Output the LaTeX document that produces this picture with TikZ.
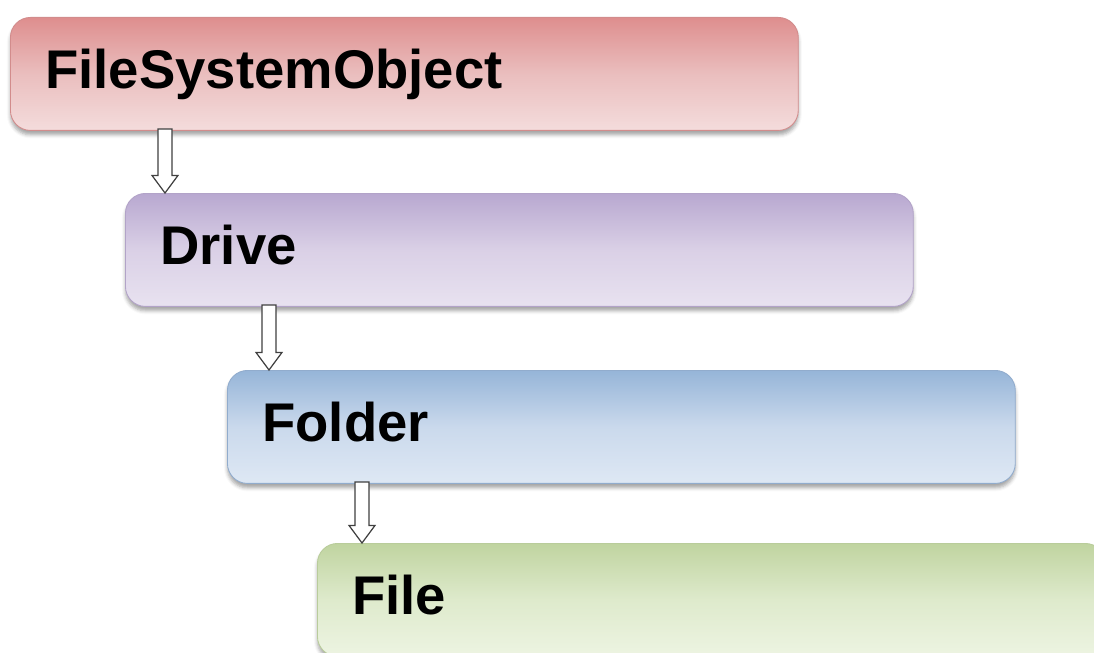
\documentclass[tikz,border=0pt]{standalone}
\usepackage{fontspec}
\setmainfont{Liberation Sans}
\usetikzlibrary{shadows.blur}

% one unit = 0.02cm, y grows downwards
\definecolor{redtop}{RGB}{222,142,142}
\definecolor{redmid}{RGB}{234,190,190}
\definecolor{redbot}{RGB}{244,220,220}
\definecolor{redline}{RGB}{210,140,140}
\definecolor{purtop}{RGB}{184,168,208}
\definecolor{purmid}{RGB}{218,208,230}
\definecolor{purbot}{RGB}{232,226,240}
\definecolor{purline}{RGB}{178,163,200}
\definecolor{blutop}{RGB}{150,181,216}
\definecolor{blumid}{RGB}{202,217,236}
\definecolor{blubot}{RGB}{222,232,244}
\definecolor{bluline}{RGB}{145,172,205}
\definecolor{grntop}{RGB}{192,212,160}
\definecolor{grnmid}{RGB}{222,234,204}
\definecolor{grnbot}{RGB}{237,244,226}
\definecolor{grnline}{RGB}{185,204,155}

\tikzset{
  layerbox/.style={
    anchor=north west, rounded corners=0.4cm,
    minimum width=15.76cm, minimum height=2.26cm,
    text width=15.76cm-1.4cm, align=left,
    inner xsep=0.7cm, inner ysep=0pt,
    text height=0.58cm, text depth=0pt,
    font=\fontsize{31}{36}\selectfont\bfseries, text=black,
    line width=0.5pt,
    blur shadow={shadow xshift=0pt, shadow yshift=-2.5pt,
                 shadow opacity=35, shadow blur radius=2pt}},
  redbox/.style={layerbox, draw=redline, top color=redtop, bottom color=redbot, middle color=redmid},
  purbox/.style={layerbox, draw=purline, top color=purtop, bottom color=purbot, middle color=purmid},
  blubox/.style={layerbox, draw=bluline, top color=blutop, bottom color=blubot, middle color=blumid},
  grnbox/.style={layerbox, draw=grnline, top color=grntop, bottom color=grnbot, middle color=grnmid},
  hollow/.style={draw=black!75, fill=white, line width=0.7pt, line join=miter}
}

% hollow downward arrow from the bottom of #1 to the top of #2 at the x of coordinate #3
\newcommand\hollowdown[3]{%
  \path[hollow] let \p1=(#1.south -| #3), \p2=(#2.north -| #3) in
    ({\x1-4pt},{\y1+1pt}) -- ({\x1+4pt},{\y1+1pt}) -- ({\x1+4pt},{\y2+10pt})
    -- ({\x1+7.4pt},{\y2+10pt}) -- (\x1,\y2) -- ({\x1-7.4pt},{\y2+10pt})
    -- ({\x1-4pt},{\y2+10pt}) -- cycle;}

\begin{document}
\begin{tikzpicture}[x=0.02cm, y=-0.02cm]
  \useasboundingbox (0,0) rectangle (1094,652);
  \clip (0,0) rectangle (1094,652);

  \node[redbox] (fso)    at (10,17)  {FileSystemObject};
  \node[purbox] (drive)  at (125,193) {Drive};
  \node[blubox] (folder) at (227,370) {Folder};
  \node[grnbox] (file)   at (317,543) {File};

  \coordinate (a1) at (165,0);
  \coordinate (a2) at (269,0);
  \coordinate (a3) at (362,0);

  \hollowdown{fso}{drive}{a1}
  \hollowdown{drive}{folder}{a2}
  \hollowdown{folder}{file}{a3}
\end{tikzpicture}
\end{document}
